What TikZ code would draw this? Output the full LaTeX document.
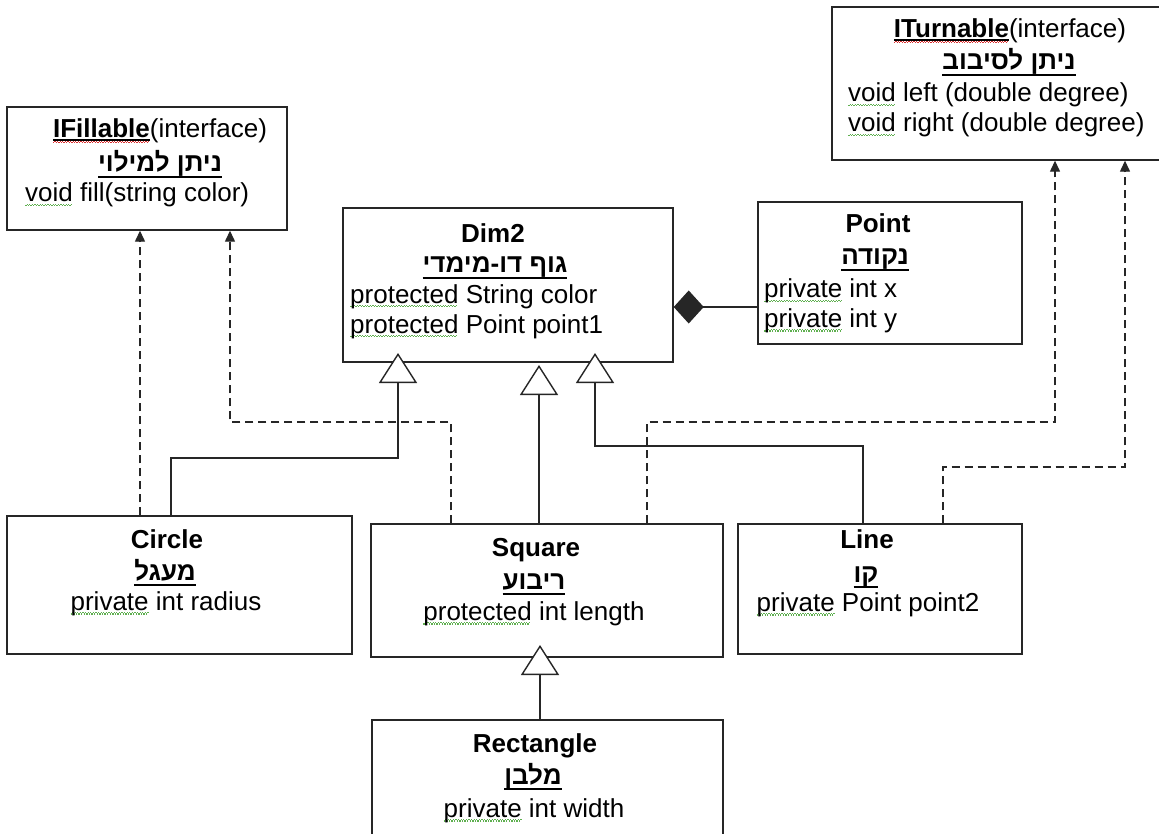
\documentclass[tikz,border=0pt]{standalone}
\usepackage{fontspec}
\setmainfont{Liberation Sans}
\newfontfamily\heb[Script=Hebrew]{Liberation Sans}
\usetikzlibrary{arrows.meta}
\TeXXeTstate=1
\definecolor{sqgreen}{RGB}{95,175,80}
\definecolor{sqred}{RGB}{215,45,45}
\newsavebox\ulbox
\newsavebox\sqbox
\newcommand\wv[3]{\sbox\sqbox{#3}\makebox[0pt][l]{\textcolor{#1}{\hbox to\wd\sqbox{\leaders\hbox{\rule[-#2]{1.3pt}{1.1pt}\rule[\dimexpr-#2+1.2pt\relax]{1.3pt}{1.1pt}}\hfill}}}\usebox\sqbox}
\newcommand\gsq[1]{\wv{sqgreen}{4.5pt}{#1}}
\newcommand\rsq[1]{\wv{sqred}{5.5pt}{#1}}
\newcommand\hul[2][6pt]{\sbox\ulbox{#2}\makebox[0pt][l]{\rule[-#1]{\wd\ulbox}{2pt}}\usebox\ulbox}
\newcommand\hb[1]{\hul{\heb\bfseries\beginR #1\endR}}
\newcommand\fs{\fontsize{26}{31}\selectfont}
\begin{document}
\begin{tikzpicture}[x=1pt,y=-1pt,
  box/.style={draw=black!85, line width=1.4pt, fill=white, inner sep=0pt},
  tx/.style={inner sep=0pt, font=\fs, anchor=base},
  txl/.style={inner sep=0pt, font=\fs, anchor=base west},
  gen/.style={line width=1.4pt, draw=black!85, -{Triangle[fill=white,length=30pt,width=38pt]}},
  real/.style={line width=1.3pt, draw=black!85, dash pattern=on 8pt off 5pt, -{Triangle[length=11pt,width=10pt]}},
  comp/.style={line width=1.4pt, draw=black!85, -{Diamond[length=30pt,width=33pt]}}]
\useasboundingbox (0,0) rectangle (1159,834);
\fill[white] (0,0) rectangle (1159,834);
\clip (0,0) rectangle (1159,834);

% boxes
\node[box, minimum width=280pt, minimum height=123pt] (fil) at (147,168.5) {};
\node[box, minimum width=343pt, minimum height=153pt] (tur) at (1003.5,83.5) {};
\node[box, minimum width=330pt, minimum height=154pt] (dim) at (508,285) {};
\node[box, minimum width=264pt, minimum height=142pt] (pt) at (890,273) {};
\node[box, minimum width=345pt, minimum height=138pt] (cir) at (179.5,585) {};
\node[box, minimum width=352pt, minimum height=133pt] (sq) at (547,590.5) {};
\node[box, minimum width=284pt, minimum height=130pt] (ln) at (880,589) {};
\node[box, minimum width=351pt, minimum height=142pt] (rec) at (547.5,791) {};

% texts: IFillable
\node[tx] (t1) at (160,138) {\hul[3pt]{\rsq{\bfseries IFillable}}(interface)};
\node[tx] (t2) at (160,172) {\hb{ניתן למילוי}};
\node[txl] (t3) at (25,202) {\gsq{void} fill(string color)};
% ITurnable
\node[tx] (t4) at (1010,38) {\hul[3pt]{\rsq{\bfseries ITurnable}}(interface)};
\node[tx] (t5) at (1009,70) {\hb{ניתן לסיבוב}};
\node[txl] (t6) at (848,102) {\gsq{void} left (double degree)};
\node[txl] (t7) at (848,132) {\gsq{void} right (double degree)};
% Dim2
\node[tx] (t8) at (493,243) {\bfseries Dim2};
\node[tx] (t9) at (495,273) {\hb{גוף דו-מימדי}};
\node[txl] (t10) at (350,303) {\gsq{protected} String color};
\node[txl] (t11) at (350,333) {\gsq{protected} Point point1};
% Point
\node[tx] (t12) at (878,233) {\bfseries Point};
\node[tx] (t13) at (875,265) {\hb{נקודה}};
\node[txl] (t14) at (764,298) {\gsq{private} int x};
\node[txl] (t15) at (764,327) {\gsq{private} int y};
% Circle
\node[tx] (t16) at (167,548) {\bfseries Circle};
\node[tx] (t17) at (165,580) {\hb{מעגל}};
\node[tx] (t18) at (166,610) {\gsq{private} int radius};
% Square
\node[tx] (t19) at (536,556) {\bfseries Square};
\node[tx] (t20) at (534,589) {\hb{ריבוע}};
\node[tx] (t21) at (534,620) {\gsq{protected} int length};
% Line
\node[tx] (t22) at (867,548) {\bfseries Line};
\node[tx] (t23) at (866,582) {\hb{קו}};
\node[tx] (t24) at (868,611) {\gsq{private} Point point2};
% Rectangle
\node[tx] (t25) at (535,752) {\bfseries Rectangle};
\node[tx] (t26) at (533,784) {\hb{מלבן}};
\node[tx] (t27) at (534,817) {\gsq{private} int width};

% helper coordinates
\coordinate (a1) at (171,458);
\coordinate (g1) at (398,353);
\coordinate (g2) at (539,365);
\coordinate (g3) at (595,353);
\coordinate (a3) at (863,446);
\coordinate (g4) at (540,645);
\coordinate (r1) at (140,0);
\coordinate (r2) at (451,422);
\coordinate (r2b) at (230,422);
\coordinate (r3) at (647,422);
\coordinate (r3b) at (1055,422);
\coordinate (r4) at (943,467);
\coordinate (r4b) at (1125,467);
\coordinate (cy) at (0,307);

% generalization
\draw[gen] (cir.north -| a1) -- (a1) -- (a1 -| g1) -- (g1);
\draw[gen] (sq.north -| g2) -- (g2);
\draw[gen] (ln.north -| a3) -- (a3) -- (a3 -| g3) -- (g3);
\draw[gen] (rec.north -| g4) -- (g4);
% realization
\draw[real] (cir.north -| r1) -- (fil.south -| r1);
\draw[real] (sq.north -| r2) -- (r2) -- (r2b) -- (fil.south -| r2b);
\draw[real] (sq.north -| r3) -- (r3) -- (r3b) -- (tur.south -| r3b);
\draw[real] (ln.north -| r4) -- (r4) -- (r4b) -- (tur.south -| r4b);
% composition
\draw[comp] (pt.west |- cy) -- (dim.east |- cy);
\end{tikzpicture}
\end{document}
